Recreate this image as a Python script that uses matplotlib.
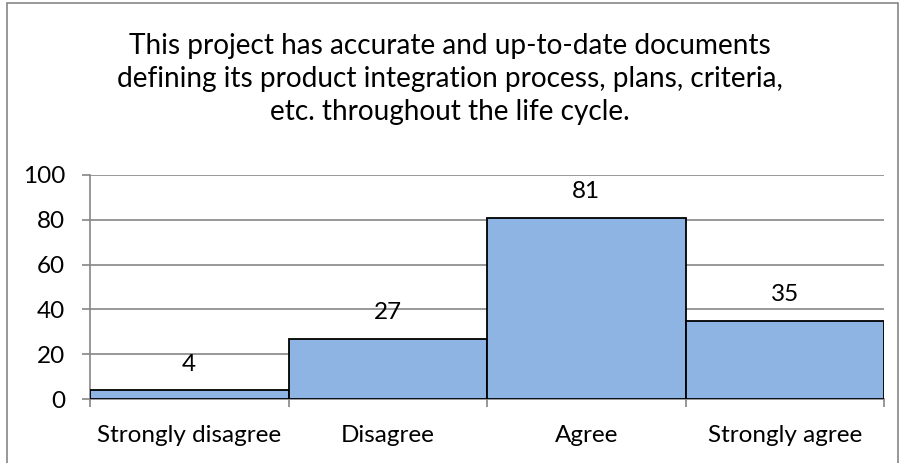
import matplotlib
matplotlib.use('Agg')
import matplotlib.pyplot as plt
from matplotlib.patches import Rectangle

categories = ['Strongly disagree', 'Disagree', 'Agree', 'Strongly agree']
values = [4, 27, 81, 35]
yticks = [0, 20, 40, 60, 80, 100]
title = ("This project has accurate and up-to-date documents\n"
         "defining its product integration process, plans, criteria,\n"
         "etc. throughout the life cycle.")

plt.rcParams['font.family'] = ['Lato', 'DejaVu Sans']
fig = plt.figure(figsize=(9, 4.63), dpi=100)

# outer chart border
fig.patches.append(Rectangle((7/900, -0.05), 891/900, 1 - 3/463 + 0.05,
                             transform=fig.transFigure, fill=False,
                             edgecolor='#868686', linewidth=1.2))

ax = fig.add_axes([90/900, 1 - 399/463, (884-90)/900, (399-175)/463])
x = list(range(len(categories)))
bars = ax.bar(x, values, width=1.0, color='#8EB4E3', edgecolor='black',
              linewidth=1.3, zorder=3)
ax.set_xlim(-0.5, len(categories) - 0.5)
ax.set_ylim(0, 100)
ax.set_yticks(yticks)
ax.grid(axis='y', color='#868686', linewidth=1.2, zorder=0)
ax.set_xticks(x)
ax.set_xticklabels(categories, fontsize=17.5)
ax.set_xticks([i - 0.5 for i in range(len(categories) + 1)], minor=True)
ax.tick_params(axis='x', which='major', length=0, pad=18.5)
ax.tick_params(axis='x', which='minor', length=6, color='#868686', width=1.2)
ax.tick_params(axis='y', length=6, color='#868686', width=1.2, pad=12, labelsize=17.5)
for s in ['top', 'right']:
    ax.spines[s].set_visible(False)
for s in ['left', 'bottom']:
    ax.spines[s].set_color('#868686')
    ax.spines[s].set_linewidth(1.2)

for xi, v in zip(x, values):
    ax.annotate(str(v), (xi, v), xytext=(0, 18.7), textcoords='offset points',
                ha='center', va='center', fontsize=17.5)

fig.text(450/900, 1 - 79/463, title, ha='center', va='center', fontsize=20.2,
         linespacing=1.34)

fig.savefig('out.png', dpi=100)
